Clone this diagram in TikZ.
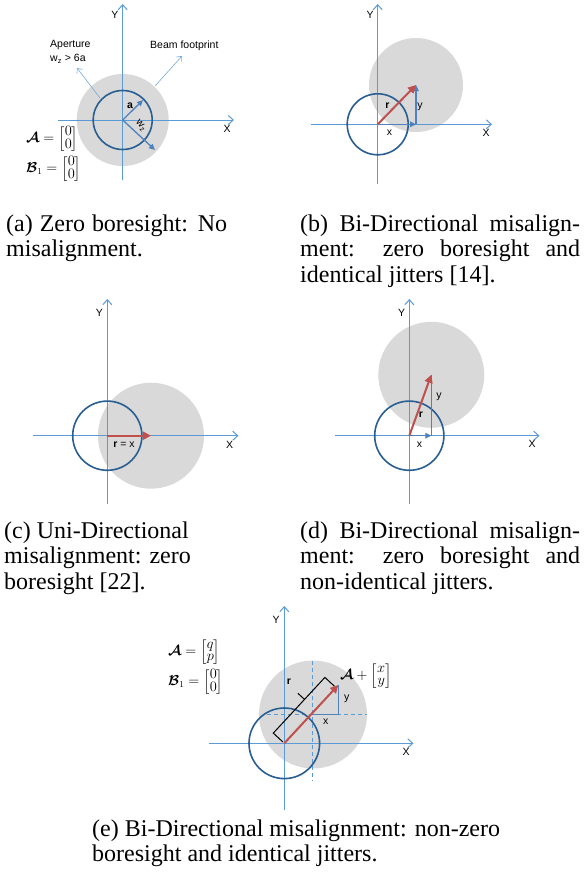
\documentclass[tikz,border=0pt]{standalone}
\usepackage{amsmath,amssymb}
\usepackage{fontspec}
\setmainfont{Liberation Serif}
\newfontfamily\lsans{Liberation Sans}
\usetikzlibrary{arrows.meta,calc}
\definecolor{axisblue}{RGB}{91,155,213}
\definecolor{apblue}{RGB}{40,94,146}
\definecolor{beamgray}{RGB}{217,217,217}
\definecolor{redarr}{RGB}{192,80,77}
\definecolor{midblue}{RGB}{79,129,189}
\newcommand{\smat}[2]{\renewcommand{\arraystretch}{0.72}\begin{bmatrix}#1\\#2\end{bmatrix}}
\begin{document}
\begin{tikzpicture}[x=1pt,y=-1pt,
  axis/.style={draw=axisblue,line width=1pt,-{Straight Barb[length=5pt,width=9pt,line width=1pt]}},
  beam/.style={fill=beamgray},
  aper/.style={draw=apblue,line width=1.6pt},
  barr/.style={draw=midblue,line width=1.3pt,-{Triangle[length=6pt,width=5.5pt]}},
  bline/.style={draw=midblue,line width=1.3pt},
  rarr/.style={draw=redarr,line width=2pt,-{Triangle[length=8pt,width=8pt]}},
  ptr/.style={draw=axisblue!85,line width=0.6pt,-{Straight Barb[length=4pt,width=7pt]}},
  dsh/.style={draw=axisblue,line width=1pt,dash pattern=on 4pt off 3pt},
  brc/.style={draw=black,line width=1pt},
  lbl/.style={font=\lsans\fontsize{10.5}{12}\selectfont,inner sep=0pt},
  blbl/.style={font=\lsans\bfseries\fontsize{10.5}{12}\selectfont,inner sep=0pt},
  mth/.style={font=\fontsize{13.5}{16}\selectfont,inner sep=0pt,anchor=west},
  captxt/.style={font=\fontsize{24}{28.8}\selectfont,inner sep=0pt,anchor=base west}
]
\useasboundingbox (0,0) rectangle (586,878);

% ---------------- (a) ----------------
\coordinate (Oa) at (122.7,120);
\fill[beam] (Oa) circle[radius=46pt];
\coordinate (aYb) at (122.7,180); \coordinate (aYt) at (122.7,4);
\coordinate (aXl) at (58,120); \coordinate (aXr) at (234,120);
\draw[axis] (aYb) -- (aYt);
\draw[axis] (aXl) -- (aXr);
\node[lbl] (aY) at (115,15) {Y};
\node[lbl] (aX) at (227,129) {X};
\draw[aper] (Oa) circle[radius=29.5pt];
\coordinate (aA) at (143,100);
\coordinate (aW) at (155,150);
\draw[barr] (Oa) -- (aA);
\draw[barr] (Oa) -- (aW);
\node[blbl] (alab) at (130,106) {a};
\node[lbl,rotate=-50] (wlab) at (141,126) {w\textsubscript{z}};
\coordinate (apS) at (100,98); \coordinate (apE) at (77,68);
\draw[ptr] (apS) -- (apE);
\coordinate (bfS) at (155,86); \coordinate (bfE) at (182,56);
\draw[ptr] (bfS) -- (bfE);
\node[lbl,anchor=west] (aptxt) at (50,45) {Aperture};
\node[lbl,anchor=west] (wztxt) at (50,59) {w\textsubscript{z} > 6a};
\node[lbl,anchor=west] (bftxt) at (150,46) {Beam footprint};
\node[mth] (aAm) at (26,139) {$\boldsymbol{\mathcal{A}} = \smat{0}{0}$};
\node[mth] (aBm) at (26,169) {$\boldsymbol{\mathcal{B}}_1 = \smat{0}{0}$};

% ---------------- (b) ----------------
\coordinate (Ob) at (377.7,124.3);
\coordinate (Gb) at (416,85);
\fill[beam] (Gb) circle[radius=47pt];
\coordinate (bYb) at (377.7,184); \coordinate (bYt) at (377.7,4);
\coordinate (bXl) at (310.7,124.3); \coordinate (bXr) at (492,124.3);
\draw[axis] (bYb) -- (bYt);
\draw[axis] (bXl) -- (bXr);
\node[lbl] (bY) at (370,15) {Y};
\node[lbl] (bX) at (486,133) {X};
\draw[aper] (Ob) circle[radius=30.5pt];
\coordinate (bXe) at (416,124.3);
\draw[barr] (Ob) -- (bXe);
\draw[barr] (bXe) -- (Gb);
\draw[rarr] (Ob) -- (Gb);
\node[blbl] (br) at (387.5,106) {r};
\node[lbl] (by) at (420,107) {y};
\node[lbl] (bx) at (389.5,133) {x};

% ---------------- (c) ----------------
\coordinate (Oc) at (107.3,435.7);
\coordinate (Gc) at (151,435.7);
\fill[beam] (Gc) circle[radius=53pt];
\coordinate (cYb) at (107.3,504); \coordinate (cYt) at (107.3,299);
\coordinate (cXl) at (33.3,435.7); \coordinate (cXr) at (238.5,435.7);
\draw[axis] (cYb) -- (cYt);
\draw[axis] (cXl) -- (cXr);
\node[lbl] (cY) at (99.5,313) {Y};
\node[lbl] (cX) at (229.5,445) {X};
\draw[aper] (Oc) circle[radius=34.6pt];
\draw[rarr] (Oc) -- (Gc);
\node[lbl] (crx) at (124,445) {\textbf{r} = x};

% ---------------- (d) ----------------
\coordinate (Od) at (409.3,435.7);
\coordinate (Gd) at (431.3,374.8);
\fill[beam] (Gd) circle[radius=53pt];
\coordinate (dYb) at (409.3,504); \coordinate (dYt) at (409.3,299);
\coordinate (dXl) at (335,435.7); \coordinate (dXr) at (539.5,435.7);
\draw[axis] (dYb) -- (dYt);
\draw[axis] (dXl) -- (dXr);
\node[lbl] (dY) at (401.7,313) {Y};
\node[lbl] (dX) at (532,444) {X};
\draw[aper] (Od) circle[radius=34.6pt];
\coordinate (dXe) at (431.3,435.7);
\draw[barr] (Od) -- (dXe);
\draw[bline] (dXe) -- (Gd);
\draw[rarr] (Od) -- (Gd);
\node[blbl] (dr) at (421,415) {r};
\node[lbl] (dy) at (439,397) {y};
\node[lbl] (dx) at (419.5,445) {x};

% ---------------- (e) ----------------
\coordinate (Oe) at (284.3,743.3);
\coordinate (Ge) at (313,714.5);
\fill[beam] (Ge) circle[radius=54pt];
\coordinate (eYb) at (284.3,810); \coordinate (eYt) at (284.3,606);
\coordinate (eXl) at (209.3,743.3); \coordinate (eXr) at (413.5,743.3);
\draw[axis] (eYb) -- (eYt);
\draw[axis] (eXl) -- (eXr);
\node[lbl] (eY) at (276,620) {Y};
\node[lbl] (eX) at (406,752) {X};
\coordinate (dvT) at (312.3,661); \coordinate (dvB) at (312.3,781);
\coordinate (dhL) at (267.3,714.3); \coordinate (dhR) at (367,714.3);
\draw[dsh] (dvT) -- (dvB);
\draw[dsh] (dhL) -- (dhR);
\draw[aper] (Oe) circle[radius=35.3pt];
\coordinate (eT) at (338.3,685);
\coordinate (eC) at (338.3,714.3);
\coordinate (eD) at (312.3,714.3);
\draw[bline] (eD) -- (eC) -- (eT);
\draw[rarr] (Oe) -- (eT);
\node[lbl] (ey) at (346.7,698.5) {y};
\node[lbl] (ex) at (325.7,722) {x};
% brace
\coordinate (br0a) at (282.8,741.9);
\coordinate (br0) at (273.3,733.1);
\coordinate (brm) at (304.5,699.4);
\coordinate (brn) at (297.9,693.3);
\coordinate (br1) at (324.9,677.4);
\coordinate (br1a) at (334.4,686.2);
\draw[brc] (br0a) -- (br0) -- (br1) -- (br1a);
\draw[brc] (brm) -- (brn);
\node[blbl] (er) at (289,682) {r};
\node[mth] (eAm) at (168,652) {$\boldsymbol{\mathcal{A}} = \smat{q}{p}$};
\node[mth] (eBm) at (168,682) {$\boldsymbol{\mathcal{B}}_1 = \smat{0}{0}$};
\node[mth] (eAx) at (340,676) {$\boldsymbol{\mathcal{A}} + \smat{x}{y}$};

% ---------------- captions ----------------
\node[captxt] (ca1) at (6,231) {\makebox[221pt][s]{(a) Zero boresight: No}};
\node[captxt] (ca2) at (6,256.5) {misalignment.};
\node[captxt] (cb1) at (300,231) {\makebox[280pt][s]{(b) Bi-Directional misalign-}};
\node[captxt] (cb2) at (300,256.5) {\makebox[280pt][s]{ment: zero boresight and}};
\node[captxt] (cb3) at (300,282) {identical jitters [14].};
\node[captxt] (cc1) at (4,538) {(c) Uni-Directional};
\node[captxt] (cc2) at (4,563.5) {misalignment: zero};
\node[captxt] (cc3) at (4,589) {boresight [22].};
\node[captxt] (cd1) at (300,538) {\makebox[280pt][s]{(d) Bi-Directional misalign-}};
\node[captxt] (cd2) at (300,563.5) {\makebox[280pt][s]{ment: zero boresight and}};
\node[captxt] (cd3) at (300,589) {non-identical jitters.};
\node[captxt] (ce1) at (92,836) {(e) Bi-Directional misalignment: non-zero};
\node[captxt] (ce2) at (92,861.5) {boresight and identical jitters.};
\end{tikzpicture}
\end{document}
